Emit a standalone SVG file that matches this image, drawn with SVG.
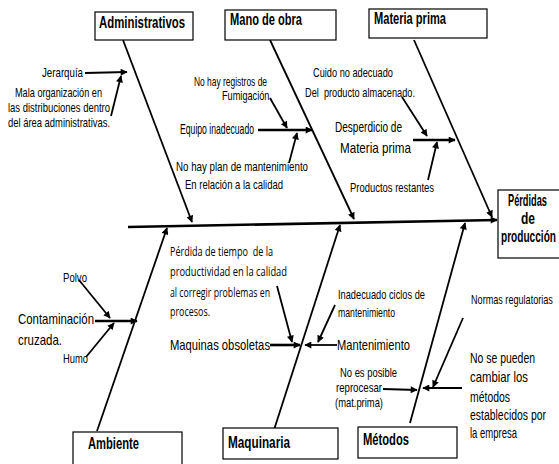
<svg xmlns="http://www.w3.org/2000/svg" width="559" height="464" viewBox="0 0 559 464">
<style>
text{font-family:"Liberation Sans Narrow","Liberation Sans",Arial,sans-serif;fill:#000}
.h{font-weight:bold;font-size:16px}
.s{font-size:13px}
.m{font-size:15px}
.c{font-family:"Open Sans","Noto Sans",sans-serif;font-size:12px}
.box{fill:#fff;stroke:#000;stroke-width:1.2}
.ln{stroke:#000;stroke-width:1.8;fill:none}
.tk{stroke:#000;stroke-width:2.6;fill:none}
</style>
<defs>
<marker id="ah" viewBox="0 0 10 10" refX="9" refY="5" markerWidth="8" markerHeight="7" markerUnits="userSpaceOnUse" orient="auto">
<path d="M0,0 L10,5 L0,10 z" fill="#000"/>
</marker>
</defs>
<rect width="559" height="464" fill="#fff"/>

<g id="connectors">
<line class="tk" x1="128" y1="227" x2="497" y2="220" marker-end="url(#ah)"/>
<line class="ln" x1="123" y1="40" x2="192" y2="222" marker-end="url(#ah)"/>
<line class="ln" x1="270" y1="40" x2="354" y2="219" marker-end="url(#ah)"/>
<line class="ln" x1="414" y1="40" x2="492" y2="217" marker-end="url(#ah)"/>
<line class="ln" x1="97" y1="431" x2="167" y2="228" marker-end="url(#ah)"/>
<line class="ln" x1="273" y1="433" x2="340" y2="225" marker-end="url(#ah)"/>
<line class="ln" x1="410" y1="423" x2="465" y2="223" marker-end="url(#ah)"/>

<line class="ln" x1="85" y1="73" x2="127" y2="72" marker-end="url(#ah)"/>
<line class="ln" x1="111" y1="116" x2="121" y2="76" marker-end="url(#ah)"/>
<line class="ln" x1="270" y1="98" x2="287" y2="128" marker-end="url(#ah)"/>
<line class="tk" x1="258" y1="130" x2="312" y2="130" marker-end="url(#ah)"/>
<line class="ln" x1="289" y1="163" x2="297" y2="133" marker-end="url(#ah)"/>
<line class="ln" x1="402" y1="97" x2="427" y2="136" marker-end="url(#ah)"/>
<line class="tk" x1="413" y1="140" x2="455" y2="140" marker-end="url(#ah)"/>
<line class="ln" x1="428" y1="180" x2="437" y2="142" marker-end="url(#ah)"/>

<line class="tk" x1="95" y1="321" x2="137" y2="321" marker-end="url(#ah)"/>
<line class="ln" x1="79" y1="280" x2="110" y2="318" marker-end="url(#ah)"/>
<line class="ln" x1="86" y1="357" x2="114" y2="323" marker-end="url(#ah)"/>
<line class="ln" x1="277" y1="286" x2="292" y2="342" marker-end="url(#ah)"/>
<line class="tk" x1="270" y1="345" x2="300" y2="345" marker-end="url(#ah)"/>
<line class="ln" x1="335" y1="305" x2="318" y2="342" marker-end="url(#ah)"/>
<line class="ln" x1="337" y1="345" x2="305" y2="345" marker-end="url(#ah)"/>
<line class="ln" x1="383" y1="389" x2="417" y2="390" marker-end="url(#ah)"/>
<line class="ln" x1="463" y1="318" x2="433" y2="387" marker-end="url(#ah)"/>
<line class="ln" x1="462" y1="388" x2="423" y2="388" marker-end="url(#ah)"/>
</g>

<g id="administrativos">
<rect class="box" x="95" y="12" width="98" height="28"/>
<text class="h" x="99" y="28" textLength="86" lengthAdjust="spacingAndGlyphs">Administrativos</text>
</g>
<g id="mano-de-obra">
<rect class="box" x="225" y="10" width="111" height="30"/>
<text class="h" x="230" y="25" textLength="72" lengthAdjust="spacingAndGlyphs">Mano de obra</text>
</g>
<g id="materia-prima">
<rect class="box" x="369" y="9" width="118" height="29"/>
<text class="h" x="374" y="24" textLength="72" lengthAdjust="spacingAndGlyphs">Materia prima</text>
</g>
<g id="perdidas">
<rect class="box" x="498" y="190" width="64" height="68"/>
<text class="h" transform="translate(508,206) scale(0.58,1)" x="0" y="0" textLength="67.2" lengthAdjust="spacingAndGlyphs">Pérdidas</text>
<text class="h" transform="translate(521,224) scale(0.75,1)" x="0" y="0" textLength="18.7" lengthAdjust="spacingAndGlyphs">de</text>
<text class="h" transform="translate(501,242) scale(0.63,1)" x="0" y="0" textLength="87.3" lengthAdjust="spacingAndGlyphs">producción</text>
</g>
<g id="ambiente">
<rect class="box" x="73" y="432" width="109" height="40"/>
<text class="h" x="88" y="449" textLength="51" lengthAdjust="spacingAndGlyphs">Ambiente</text>
</g>
<g id="maquinaria">
<rect class="box" x="223" y="428" width="115" height="31"/>
<text class="h" x="228" y="448" textLength="62" lengthAdjust="spacingAndGlyphs">Maquinaria</text>
</g>
<g id="metodos">
<rect class="box" x="358" y="427" width="99" height="31"/>
<text class="h" x="363" y="445" textLength="46" lengthAdjust="spacingAndGlyphs">Métodos</text>
</g>

<g id="causas-administrativos">
<text class="s" x="42" y="77" textLength="41" lengthAdjust="spacingAndGlyphs">Jerarquía</text>
<text class="s" x="15" y="97" textLength="87" lengthAdjust="spacingAndGlyphs">Mala organización en</text>
<text class="s" x="8" y="112" textLength="102" lengthAdjust="spacingAndGlyphs">las distribuciones dentro</text>
<text class="s" x="8" y="127" textLength="102" lengthAdjust="spacingAndGlyphs">del área administrativas.</text>
</g>
<g id="causas-mano-de-obra">
<text class="s" x="194" y="86" textLength="73" lengthAdjust="spacingAndGlyphs">No hay registros de</text>
<text class="s" x="222" y="100" textLength="50" lengthAdjust="spacingAndGlyphs">Fumigación.</text>
<text class="m" x="180" y="134" textLength="74" lengthAdjust="spacingAndGlyphs">Equipo inadecuado</text>
<text class="s" x="176" y="171" textLength="132" lengthAdjust="spacingAndGlyphs">No hay plan de mantenimiento</text>
<text class="s" x="185" y="189" textLength="98" lengthAdjust="spacingAndGlyphs">En relación a la calidad</text>
</g>
<g id="causas-materia-prima">
<text class="s" x="313" y="77" textLength="80" lengthAdjust="spacingAndGlyphs">Cuido no adecuado</text>
<text class="s" x="305" y="97" textLength="110" lengthAdjust="spacingAndGlyphs" xml:space="preserve">Del  producto almacenado.</text>
<text class="m" x="335" y="132" textLength="67" lengthAdjust="spacingAndGlyphs">Desperdicio de</text>
<text class="m" x="340" y="153" textLength="71" lengthAdjust="spacingAndGlyphs">Materia prima</text>
<text class="s" x="350" y="192" textLength="84" lengthAdjust="spacingAndGlyphs">Productos restantes</text>
</g>
<g id="causas-ambiente">
<text class="s" x="63" y="282" textLength="24" lengthAdjust="spacingAndGlyphs">Polvo</text>
<text class="m" x="18" y="324" textLength="76" lengthAdjust="spacingAndGlyphs">Contaminación</text>
<text class="m" x="18" y="345" textLength="44" lengthAdjust="spacingAndGlyphs">cruzada.</text>
<text class="s" x="63" y="363" textLength="25" lengthAdjust="spacingAndGlyphs">Humo</text>
</g>
<g id="causas-maquinaria">
<text class="c" x="170" y="256" textLength="103" lengthAdjust="spacingAndGlyphs" xml:space="preserve">Pérdida de tiempo  de la</text>
<text class="c" x="170" y="276" textLength="117" lengthAdjust="spacingAndGlyphs">productividad en la calidad</text>
<text class="c" x="170" y="297" textLength="100" lengthAdjust="spacingAndGlyphs">al corregir problemas en</text>
<text class="c" x="170" y="316" textLength="40" lengthAdjust="spacingAndGlyphs">procesos.</text>
<text class="m" x="170" y="350" textLength="100" lengthAdjust="spacingAndGlyphs">Maquinas obsoletas</text>
<text class="s" x="338" y="299" textLength="87" lengthAdjust="spacingAndGlyphs">Inadecuado ciclos de</text>
<text class="s" x="338" y="317" textLength="57" lengthAdjust="spacingAndGlyphs">mantenimiento</text>
<text class="m" x="337" y="350" textLength="73" lengthAdjust="spacingAndGlyphs">Mantenimiento</text>
</g>
<g id="causas-metodos">
<text class="s" x="340" y="377" textLength="57" lengthAdjust="spacingAndGlyphs">No es posible</text>
<text class="s" x="336" y="392" textLength="46" lengthAdjust="spacingAndGlyphs">reprocesar</text>
<text class="s" x="335" y="407" textLength="48" lengthAdjust="spacingAndGlyphs">(mat.prima)</text>
<text class="s" transform="translate(471,304) scale(0.7,1)" x="0" y="0" textLength="117" lengthAdjust="spacingAndGlyphs">Normas regulatorias</text>
<text class="m" transform="translate(470,363) scale(0.7,1)" x="0" y="0" textLength="92.9" lengthAdjust="spacingAndGlyphs">No se pueden</text>
<text class="m" x="470" y="382" textLength="58" lengthAdjust="spacingAndGlyphs">cambiar los</text>
<text class="m" x="470" y="402" textLength="40" lengthAdjust="spacingAndGlyphs">métodos</text>
<text class="m" transform="translate(470,420) scale(0.7,1)" x="0" y="0" textLength="108.6" lengthAdjust="spacingAndGlyphs">establecidos por</text>
<text class="m" x="470" y="438" textLength="47" lengthAdjust="spacingAndGlyphs">la empresa</text>
</g>
</svg>
